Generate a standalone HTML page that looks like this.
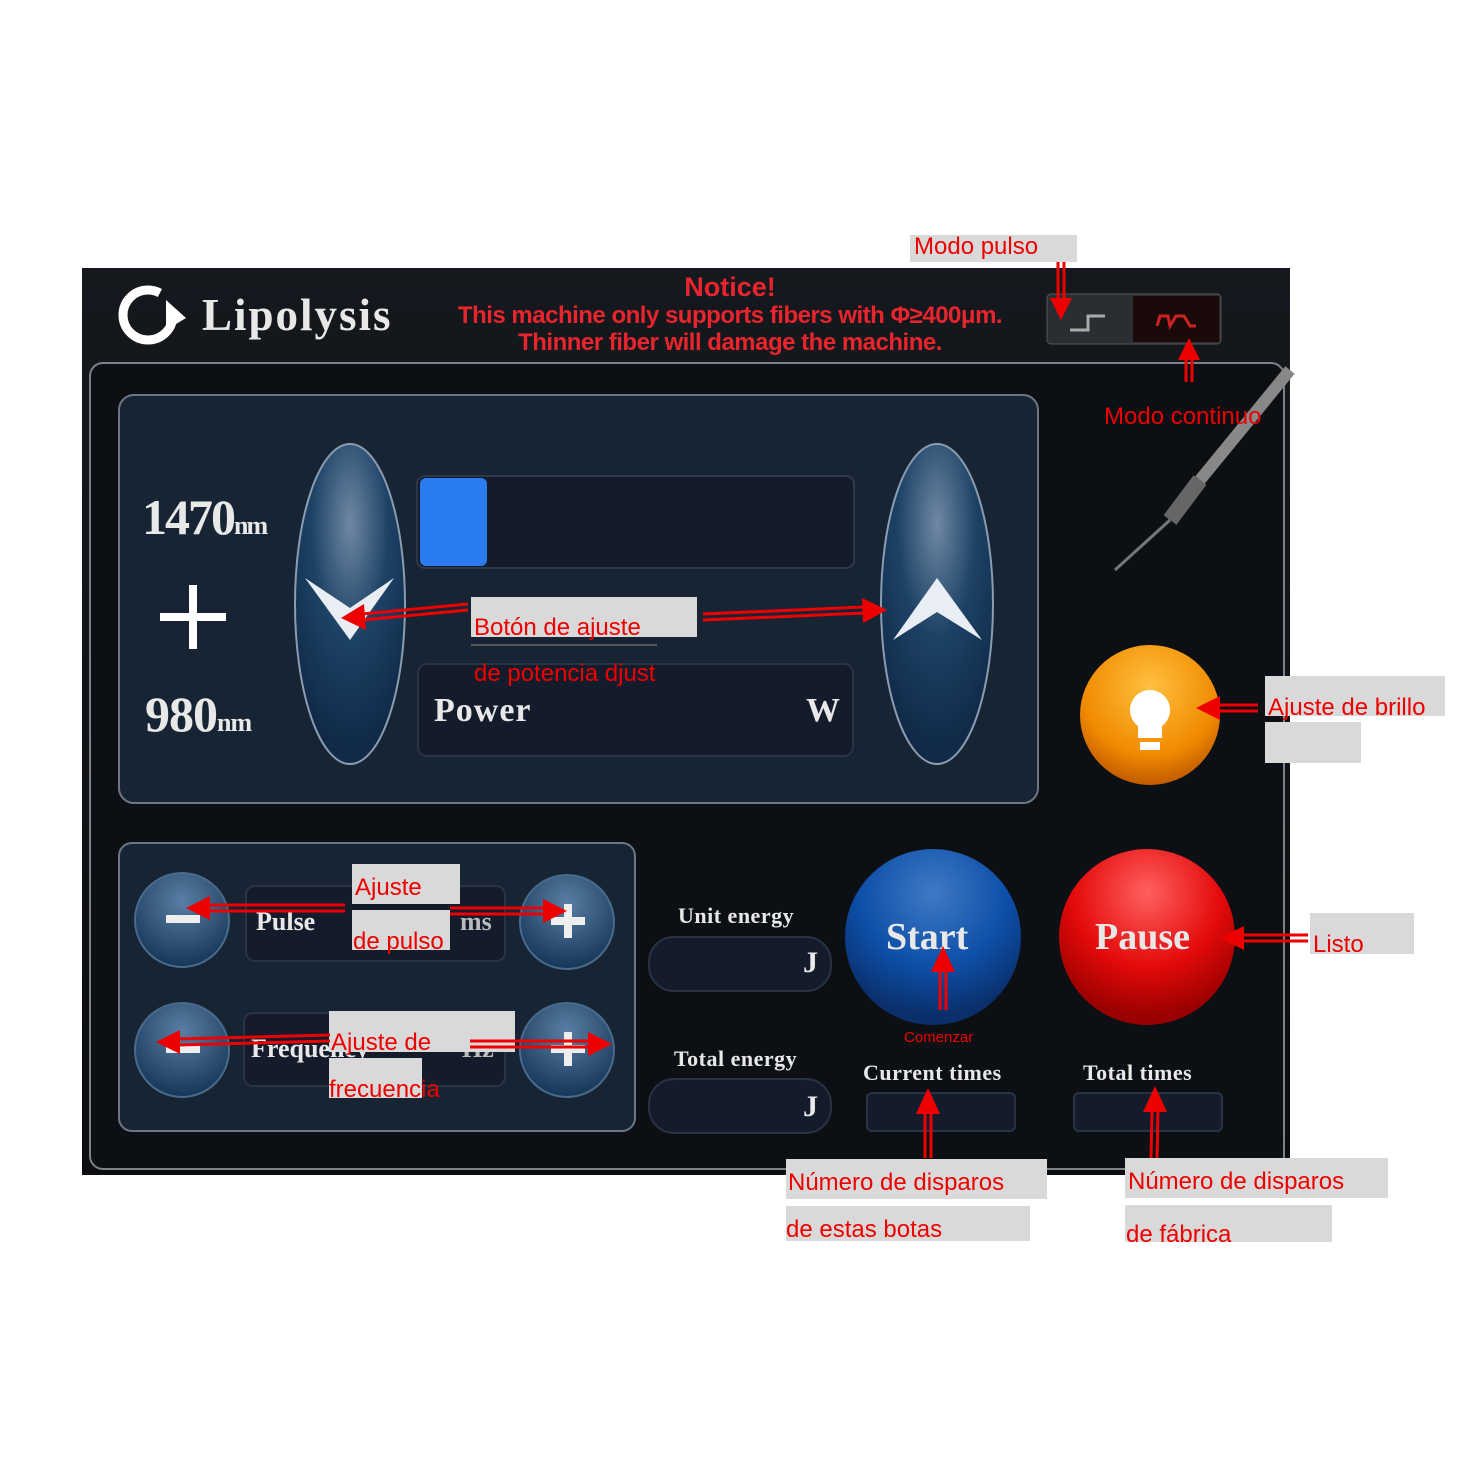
<!DOCTYPE html>
<html><head><meta charset="utf-8"><style>
body{margin:0;width:1474px;height:1474px;background:#fff;position:relative;overflow:hidden;font-family:"Liberation Sans",sans-serif}
.a{position:absolute}
.lb{position:absolute;background:#d9d9d9}
.rt{position:absolute;color:#e00;font-size:24px;white-space:nowrap;line-height:1}
.sf{font-family:"Liberation Serif",serif;font-weight:bold;color:#e8e8e8;position:absolute;white-space:nowrap}
.box{position:absolute;background:#141c2c;border:2px solid #2a3344;border-radius:10px}
</style></head><body>
<div class="a" style="left:82px;top:268px;width:1208px;height:907px;background:linear-gradient(#15191e,#0b0d10)"></div>
<div class="a" style="left:89px;top:362px;width:1192px;height:804px;border:2px solid #7d8288;border-radius:14px;background:#0c1014"></div>
<div class="a" style="left:118px;top:394px;width:917px;height:406px;border:2px solid #6d7682;border-radius:16px;background:#172433"></div>
<div class="a" style="left:118px;top:842px;width:514px;height:286px;border:2px solid #6d7682;border-radius:14px;background:#172433"></div>
<svg class="a" style="left:0;top:0" width="1474" height="1474">
<defs>
<radialGradient id="el" cx="50%" cy="25%" r="70%"><stop offset="0" stop-color="#6f88a4"/><stop offset=".5" stop-color="#1d4266"/><stop offset="1" stop-color="#102a48"/></radialGradient>
<radialGradient id="bl" cx="50%" cy="25%" r="70%"><stop offset="0" stop-color="#3e79c4"/><stop offset=".6" stop-color="#0d4fa8"/><stop offset="1" stop-color="#0a2f6a"/></radialGradient>
<radialGradient id="rd" cx="50%" cy="25%" r="70%"><stop offset="0" stop-color="#ff6060"/><stop offset=".6" stop-color="#e40a0a"/><stop offset="1" stop-color="#9a0000"/></radialGradient>
<radialGradient id="or" cx="50%" cy="30%" r="70%"><stop offset="0" stop-color="#ffc040"/><stop offset=".7" stop-color="#f08a00"/><stop offset="1" stop-color="#c05a00"/></radialGradient>
<radialGradient id="sm" cx="50%" cy="30%" r="70%"><stop offset="0" stop-color="#5a7fa4"/><stop offset="1" stop-color="#163658"/></radialGradient>
</defs>
<circle cx="148" cy="315" r="25" fill="none" stroke="#fff" stroke-width="9" stroke-dasharray="130 30"/>
<polygon points="166,300 186,318 166,330" fill="#fff"/>
<rect x="1047" y="294" width="174" height="50" rx="4" fill="#2a2e33" stroke="#555"/>
<rect x="1133" y="296" width="86" height="46" fill="#1a0a0a"/>
<polyline points="1070,330 1088,330 1088,316 1105,316" fill="none" stroke="#aaa" stroke-width="3"/>
<polyline points="1157,326 1160,316 1168,316 1170,326 1176,316 1184,316 1190,326 1196,326" fill="none" stroke="#c22" stroke-width="3"/>
<line x1="1290" y1="370" x2="1200" y2="480" stroke="#888" stroke-width="12"/>
<line x1="1200" y1="480" x2="1170" y2="520" stroke="#666" stroke-width="16"/>
<line x1="1170" y1="520" x2="1115" y2="570" stroke="#777" stroke-width="3"/>
<ellipse cx="350" cy="604" rx="55" ry="160" fill="url(#el)" stroke="#8a9cb0" stroke-width="2"/>
<ellipse cx="937" cy="604" rx="56" ry="160" fill="url(#el)" stroke="#8a9cb0" stroke-width="2"/>
<polygon points="305,578 350,608 394,578 350,640" fill="#e8eef4"/>
<polygon points="893,640 937,578 982,640 937,612" fill="#e8eef4"/>
<rect x="417" y="476" width="437" height="92" rx="8" fill="#141c2c" stroke="#2e3848" stroke-width="2"/>
<rect x="420" y="478" width="67" height="88" rx="6" fill="#2a7cf0"/>
<circle cx="182" cy="920" r="47" fill="url(#sm)" stroke="#4a6a8c" stroke-width="2"/>
<circle cx="567" cy="922" r="47" fill="url(#sm)" stroke="#4a6a8c" stroke-width="2"/>
<circle cx="182" cy="1050" r="47" fill="url(#sm)" stroke="#4a6a8c" stroke-width="2"/>
<circle cx="567" cy="1050" r="47" fill="url(#sm)" stroke="#4a6a8c" stroke-width="2"/>
<rect x="166" y="915" width="34" height="8" fill="#eee"/>
<rect x="166" y="1045" width="34" height="8" fill="#eee"/>
<rect x="551" y="917" width="34" height="8" fill="#eee"/><rect x="564" y="904" width="8" height="34" fill="#eee"/>
<rect x="551" y="1045" width="34" height="8" fill="#eee"/><rect x="564" y="1032" width="8" height="34" fill="#eee"/>
<circle cx="933" cy="937" r="88" fill="url(#bl)"/>
<circle cx="1147" cy="937" r="88" fill="url(#rd)"/>
<circle cx="1150" cy="715" r="70" fill="url(#or)"/>
<path d="M1150 690 a20 20 0 0 1 12 36 v12 h-24 v-12 a20 20 0 0 1 12 -36z" fill="#fff"/>
<rect x="1140" y="742" width="20" height="8" fill="#fff"/>
</svg>
<div class="sf" style="left:202px;top:289px;font-size:45px;letter-spacing:2px">Lipolysis</div>
<div class="a" style="left:430px;top:272px;width:600px;text-align:center;color:#e8242c;font-weight:bold;line-height:30px">
<div style="font-size:27px">Notice!</div>
<div style="font-size:24px;line-height:28px;letter-spacing:-0.5px">This machine only supports fibers with Φ≥400μm.</div>
<div style="font-size:24px;line-height:26px;letter-spacing:-0.5px">Thinner fiber will damage the machine.</div></div>
<div class="sf" style="left:142px;top:488px;font-size:50px;letter-spacing:-2px">1470<span style="font-size:26px">nm</span></div>
<div class="a" style="left:160px;top:613px;width:66px;height:8px;background:#fff"></div>
<div class="a" style="left:189px;top:585px;width:8px;height:64px;background:#fff"></div>
<div class="sf" style="left:145px;top:685px;font-size:50px;letter-spacing:-1px">980<span style="font-size:26px">nm</span></div>
<div class="box" style="left:417px;top:663px;width:433px;height:90px"></div>
<div class="sf" style="left:434px;top:692px;font-size:34px;letter-spacing:1px">Power</div>
<div class="sf" style="left:806px;top:692px;font-size:34px">W</div>
<div class="box" style="left:245px;top:885px;width:257px;height:73px"></div>
<div class="sf" style="left:256px;top:907px;font-size:26px">Pulse</div>
<div class="sf" style="left:460px;top:907px;font-size:26px;color:#bbb">ms</div>
<div class="box" style="left:243px;top:1012px;width:259px;height:71px"></div>
<div class="sf" style="left:251px;top:1034px;font-size:26px">Frequency</div>
<div class="sf" style="left:462px;top:1034px;font-size:26px;color:#bbb">Hz</div>
<div class="sf" style="left:678px;top:903px;font-size:22px;letter-spacing:0.5px">Unit energy</div>
<div class="box" style="left:648px;top:936px;width:180px;height:52px;border-radius:26px"></div>
<div class="sf" style="left:803px;top:946px;font-size:30px">J</div>
<div class="sf" style="left:674px;top:1046px;font-size:22px;letter-spacing:0.5px">Total energy</div>
<div class="box" style="left:648px;top:1078px;width:180px;height:52px;border-radius:26px"></div>
<div class="sf" style="left:803px;top:1090px;font-size:30px">J</div>
<div class="sf" style="left:863px;top:1060px;font-size:22px;letter-spacing:0.5px">Current times</div>
<div class="box" style="left:866px;top:1092px;width:146px;height:36px;border-radius:6px"></div>
<div class="sf" style="left:1083px;top:1060px;font-size:22px;letter-spacing:0.5px">Total times</div>
<div class="box" style="left:1073px;top:1092px;width:146px;height:36px;border-radius:6px"></div>
<div class="sf" style="left:886px;top:915px;font-size:38px">Start</div>
<div class="sf" style="left:1095px;top:915px;font-size:38px">Pause</div>
<div class="lb" style="left:910px;top:235px;width:167px;height:27px"></div><div class="rt" style="left:914px;top:235px">Modo pulso</div>
<div class="rt" style="left:1104px;top:405px">Modo continuo</div>
<div class="lb" style="left:471px;top:597px;width:226px;height:40px"></div><div class="rt" style="left:474px;top:616px">Botón de ajuste</div>
<div class="a" style="left:471px;top:644px;width:186px;height:2px;background:#555"></div>
<div class="rt" style="left:474px;top:662px">de potencia djust</div>
<div class="lb" style="left:1265px;top:676px;width:180px;height:40px"></div><div class="rt" style="left:1268px;top:696px">Ajuste de brillo</div>
<div class="lb" style="left:1265px;top:722px;width:96px;height:41px"></div>
<div class="lb" style="left:1310px;top:913px;width:104px;height:41px"></div><div class="rt" style="left:1313px;top:933px">Listo</div>
<div class="lb" style="left:352px;top:864px;width:108px;height:40px"></div><div class="rt" style="left:355px;top:876px">Ajuste</div>
<div class="lb" style="left:352px;top:910px;width:98px;height:40px"></div><div class="rt" style="left:353px;top:930px">de pulso</div>
<div class="lb" style="left:329px;top:1011px;width:186px;height:41px"></div><div class="rt" style="left:331px;top:1031px">Ajuste de</div>
<div class="lb" style="left:329px;top:1058px;width:93px;height:40px"></div><div class="rt" style="left:329px;top:1078px">frecuencia</div>
<div class="rt" style="left:904px;top:1030px;font-size:15px">Comenzar</div>
<div class="lb" style="left:786px;top:1159px;width:261px;height:40px"></div><div class="rt" style="left:788px;top:1171px">Número de disparos</div>
<div class="lb" style="left:786px;top:1206px;width:244px;height:35px"></div><div class="rt" style="left:786px;top:1218px">de estas botas</div>
<div class="lb" style="left:1125px;top:1158px;width:263px;height:40px"></div><div class="rt" style="left:1128px;top:1170px">Número de disparos</div>
<div class="lb" style="left:1125px;top:1205px;width:207px;height:37px;overflow:hidden"><div class="rt" style="left:1px;top:18px">de fábrica</div></div>
<svg class="a" style="left:0;top:0" width="1474" height="1474">
<g stroke="#e00" stroke-width="3" fill="#e00">
<line x1="1058" y1="262" x2="1058" y2="300"/><line x1="1064" y1="262" x2="1064" y2="300"/><polygon stroke="none" points="1050,298 1072,298 1061,320"/>
<line x1="1186" y1="382" x2="1186" y2="358"/><line x1="1192" y1="382" x2="1192" y2="358"/><polygon stroke="none" points="1178,360 1200,360 1189,338"/>
<line x1="468" y1="604" x2="362" y2="614"/><line x1="468" y1="610" x2="362" y2="620"/><polygon stroke="none" points="364,604 366,630 341,618"/>
<line x1="703" y1="614" x2="865" y2="607"/><line x1="703" y1="620" x2="865" y2="613"/><polygon stroke="none" points="862,598 863,623 887,610"/>
<line x1="1258" y1="705" x2="1218" y2="705"/><line x1="1258" y1="711" x2="1218" y2="711"/><polygon stroke="none" points="1220,696 1220,720 1196,708"/>
<line x1="1308" y1="935" x2="1242" y2="935"/><line x1="1308" y1="941" x2="1242" y2="941"/><polygon stroke="none" points="1244,926 1244,950 1220,938"/>
<line x1="345" y1="905" x2="208" y2="905"/><line x1="345" y1="911" x2="208" y2="911"/><polygon stroke="none" points="210,896 210,920 186,908"/>
<line x1="450" y1="908" x2="545" y2="908"/><line x1="450" y1="914" x2="545" y2="914"/><polygon stroke="none" points="543,899 543,923 567,911"/>
<line x1="330" y1="1035" x2="178" y2="1039"/><line x1="330" y1="1041" x2="178" y2="1045"/><polygon stroke="none" points="180,1030 180,1054 156,1042"/>
<line x1="470" y1="1041" x2="590" y2="1041"/><line x1="470" y1="1047" x2="590" y2="1047"/><polygon stroke="none" points="588,1032 588,1056 612,1044"/>
<line x1="940" y1="1010" x2="940" y2="970"/><line x1="946" y1="1010" x2="946" y2="970"/><polygon stroke="none" points="931,972 955,972 943,946"/>
<line x1="925" y1="1158" x2="925" y2="1112"/><line x1="931" y1="1158" x2="931" y2="1112"/><polygon stroke="none" points="916,1114 940,1114 928,1088"/>
<line x1="1151" y1="1158" x2="1152" y2="1110"/><line x1="1157" y1="1158" x2="1158" y2="1110"/><polygon stroke="none" points="1143,1112 1167,1112 1155,1086"/>
</g>
</svg>
</body></html>
